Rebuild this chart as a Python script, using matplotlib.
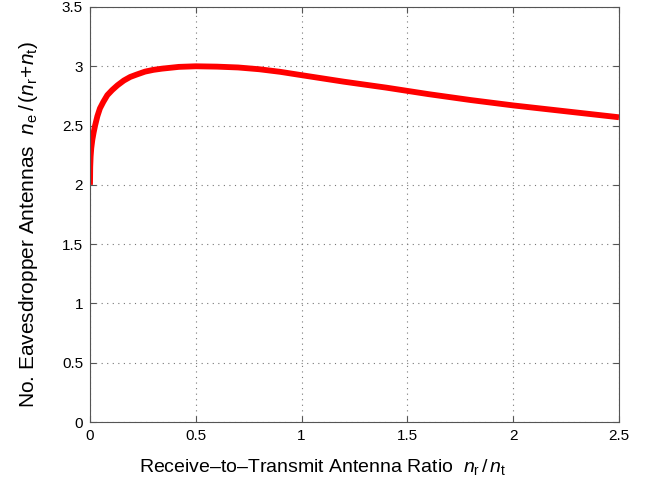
import matplotlib
matplotlib.use("Agg")
import matplotlib.pyplot as plt

ratio = [0, 0.001, 0.003, 0.006, 0.011, 0.017, 0.024, 0.035, 0.047, 0.063, 0.082, 0.105,
         0.13, 0.16, 0.19, 0.22, 0.26, 0.3, 0.34, 0.42, 0.5,
         0.6, 0.7, 0.8, 0.9, 1.0, 1.2, 1.4, 1.6, 1.8, 2.0, 2.2, 2.4, 2.5]
antennas = [2.0, 2.15, 2.24, 2.31, 2.38, 2.44, 2.5, 2.58, 2.645, 2.70, 2.757, 2.80,
            2.84, 2.88, 2.91, 2.93, 2.955, 2.97, 2.98, 2.995, 3.0,
            2.997, 2.99, 2.975, 2.953, 2.925, 2.87, 2.82, 2.765, 2.715, 2.67, 2.63, 2.59, 2.57]
xticks = [0, 0.5, 1, 1.5, 2, 2.5]
xticklabels = ["0", "0.5", "1", "1.5", "2", "2.5"]
yticks = [0, 0.5, 1, 1.5, 2, 2.5, 3, 3.5]
yticklabels = ["0", "0.5", "1", "1.5", "2", "2.5", "3", "3.5"]

plt.rcParams['font.family'] = ['Liberation Sans', 'DejaVu Sans']
plt.rcParams['mathtext.fontset'] = 'custom'
plt.rcParams['mathtext.rm'] = 'Liberation Sans'
plt.rcParams['mathtext.it'] = 'Liberation Sans:italic'

fig = plt.figure(figsize=(6.57, 4.88), dpi=100)
ax = fig.add_axes([90/657, 1-422/488, (619-90)/657, (422-7)/488])
ax.plot(ratio, antennas, color='#ff0000', lw=4.2, solid_capstyle='butt', solid_joinstyle='round')
ax.set_xlim(0, 2.5)
ax.set_ylim(0, 3.5)
ax.set_xticks(xticks)
ax.set_xticklabels(xticklabels)
ax.set_yticks(yticks)
ax.set_yticklabels(yticklabels)
ax.grid(True, linestyle=(0, (1, 4)), color='#777777', linewidth=0.8)
for s in ax.spines.values():
    s.set_color('#555555')
    s.set_linewidth(0.8)
ax.tick_params(direction='in', top=True, right=True, length=4, labelsize=11, color='#555555', pad=5)
ax.set_xlabel(r'Receive–to–Transmit Antenna Ratio  $n_{\mathrm{r}}\,/\,n_{\mathrm{t}}$', fontsize=14)
ax.set_ylabel(r'No. Eavesdropper Antennas  $n_{\mathrm{e}}\,/\,(n_{\mathrm{r}}\!+\!n_{\mathrm{t}})$', fontsize=15)
ax.xaxis.set_label_coords(0.44, -0.085)
ax.yaxis.set_label_coords(-0.095, 0.475)
fig.savefig('out.png', dpi=100)
